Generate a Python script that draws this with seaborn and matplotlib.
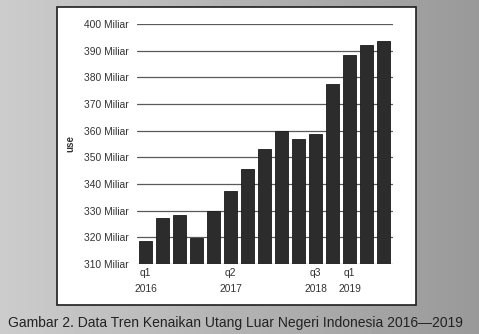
import numpy as np
import pandas as pd
import matplotlib
matplotlib.use("Agg")
import matplotlib.pyplot as plt
import seaborn as sns
from matplotlib.patches import Rectangle

periods = ["2016q1", "2016q2", "2016q3", "2016q4",
           "2017q1", "2017q2", "2017q3", "2017q4",
           "2018q1", "2018q2", "2018q3", "2018q4",
           "2019q1", "2019q2", "2019q3"]
values = [318.5, 327.1, 328.5, 319.9, 330.0, 337.4, 345.6, 353.0,
          359.9, 356.8, 358.7, 377.5, 388.3, 392.0, 393.6]
x_tick_pos = [0, 5, 10, 12]
x_tick_labels = ["q1\n2016", "q2\n2017", "q3\n2018", "q1\n2019"]
y_ticks = [310, 320, 330, 340, 350, 360, 370, 380, 390, 400]
y_tick_labels = [f"{v} Miliar" for v in y_ticks]
y_label = "use"
caption = "Gambar 2. Data Tren Kenaikan Utang Luar Negeri Indonesia 2016\u20142019"

sns.set_style("white")
plt.rcParams["font.family"] = ["Liberation Sans", "DejaVu Sans"]

df = pd.DataFrame({"period": periods, "value": values})

fig = plt.figure(figsize=(4.79, 3.34), dpi=100)
fig.patch.set_facecolor("#b2b2b2")
# subtle left-to-right shading of the backdrop
grad = np.linspace(0.80, 0.60, 479)[None, :].repeat(334, axis=0)
fig.figimage(grad, cmap="gray", vmin=0, vmax=1, zorder=0)

fig.patches.append(Rectangle((57 / 479, 1 - 305 / 334), (416 - 57) / 479, (305 - 7) / 334,
                             transform=fig.transFigure, facecolor="white",
                             edgecolor="#1e1e1e", linewidth=1.2, zorder=0.5))

ax = fig.add_axes([137 / 479, 70 / 334, 256 / 479, 240 / 334])
ax.set_zorder(2)
ax.set_facecolor("none")
sns.barplot(data=df, x="period", y="value", ax=ax, color="#2c2c2c",
            width=0.8, saturation=1, edgecolor="#1a1a1a", linewidth=0.6, zorder=3)
ax.set_ylim(310, 400)
ax.set_xlim(-0.5, 14.56)
ax.set_yticks(y_ticks)
ax.set_yticklabels(y_tick_labels)
ax.set_xticks(x_tick_pos)
ax.set_xticklabels(x_tick_labels, linespacing=1.75)
ax.tick_params(axis="both", length=0, labelsize=7.4, colors="#333333")
ax.tick_params(axis="y", pad=6)
ax.tick_params(axis="x", pad=3)
ax.yaxis.grid(True, color="#5a5a5a", linewidth=0.9, zorder=0)
ax.set_axisbelow(True)
for s in ax.spines.values():
    s.set_visible(False)
ax.set_xlabel("")
ax.set_ylabel(y_label, fontsize=7, fontweight="bold", color="#333333")
ax.yaxis.set_label_coords(-0.24, 0.5)

fig.text(0.4917, 1 - 323 / 334, caption, ha="center", va="center",
         fontsize=10.0, color="#222222", zorder=3)

fig.savefig("out.png", dpi=100, facecolor=fig.get_facecolor())
